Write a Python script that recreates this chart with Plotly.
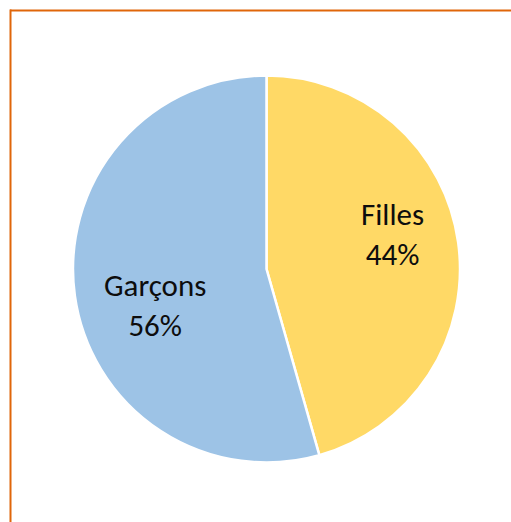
import plotly.graph_objects as go

# Data
categories = ["Filles", "Garçons"]
shares = [45.6, 54.4]          # slice sizes as drawn
pct_labels = ["44%", "56%"]    # percentages as printed on the chart
colors = ["#FFD966", "#9DC3E6"]

W, H = 511, 522
cx, cy, r = 266.5, 269, 193.5

fig = go.Figure(go.Pie(
    labels=categories,
    values=shares,
    sort=False,
    direction="clockwise",
    rotation=0,
    marker=dict(colors=colors, line=dict(color="white", width=2.5)),
    textinfo="none",
    hoverinfo="label+percent",
    showlegend=False,
    domain=dict(x=[(cx - r) / W, (cx + r) / W],
                y=[1 - (cy + r) / H, 1 - (cy - r) / H]),
))

label_pos = {"Filles": (392, 234), "Garçons": (155, 305)}
for cat, pct in zip(categories, pct_labels):
    px, py = label_pos[cat]
    fig.add_annotation(
        x=px / W, y=1 - py / H, xref="paper", yref="paper",
        text=f"{cat}<br>{pct}", showarrow=False,
        xanchor="center", yanchor="middle", align="center",
        font=dict(family="Carlito, Lato, sans-serif", size=31, color="#0d0d0d"),
    )

border = "#E0660A"
fig.add_shape(type="line", xref="paper", yref="paper",
              x0=10 / W, x1=1, y0=1 - 10.5 / H, y1=1 - 10.5 / H,
              line=dict(color=border, width=2))
fig.add_shape(type="line", xref="paper", yref="paper",
              x0=10.5 / W, x1=10.5 / W, y0=0, y1=1 - 9.5 / H,
              line=dict(color=border, width=2))

fig.update_layout(
    width=W, height=H,
    margin=dict(l=0, r=0, t=0, b=0),
    paper_bgcolor="white", plot_bgcolor="white",
)

fig.write_html("out.html",
               config={"displayModeBar": False},
               post_script="document.body.style.margin='0';document.body.style.overflow='hidden';")
